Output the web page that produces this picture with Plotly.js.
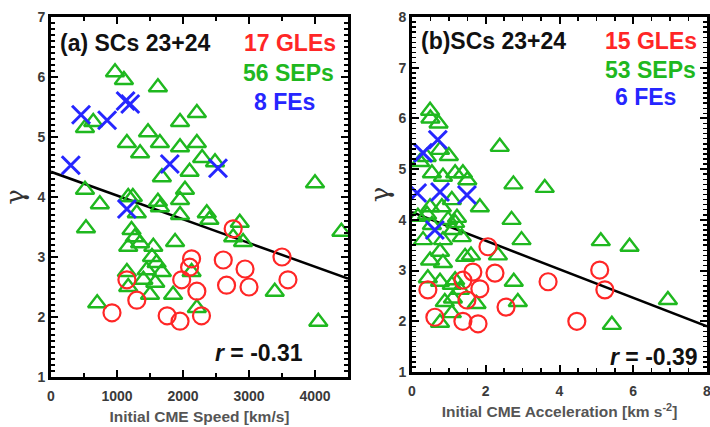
<!DOCTYPE html>
<html><head><meta charset="utf-8">
<script src="https://cdn.plot.ly/plotly-3.0.1.min.js"></script>
<style>html,body{margin:0;padding:0;background:#fff}</style>
</head><body><div id="chart" style="width:710px;height:427px"></div>
<script>
// ---- Panel (a): gamma vs initial CME speed ----
const gleSpeed = [924,1150,1300,1760,1955,1980,2130,2100,2210,2280,2610,2660,2760,2940,3000,3500,3590];
const gleGammaA = [2.07,2.62,2.28,2.02,1.93,2.62,2.97,2.83,2.43,2.02,2.95,2.53,3.47,2.8,2.5,3.0,2.62];
const sepSpeed = [970,1105,1620,515,640,1955,2210,1150,1470,1650,1955,2210,1350,2290,2485,2100,1680,2030,515,4000,740,1170,1240,1620,1955,
  530,1300,1220,1270,1170,1350,1550,1530,1600,1680,1450,1400,1580,1150,1170,1500,700,1850,1880,1955,1650,2360,2400,2860,2760,2910,2130,2210,3390,4050,4400];
const sepGammaA = [6.08,5.95,5.83,5.15,5.25,5.25,5.4,4.9,5.08,4.9,4.83,4.9,4.73,4.65,4.58,4.42,4.33,4.12,4.12,4.23,3.88,4.0,4.0,3.92,3.95,
  3.48,3.73,3.45,3.33,3.17,3.23,3.17,3.0,2.9,2.75,2.78,2.62,2.57,2.75,2.5,2.37,2.23,2.37,3.25,3.7,3.83,3.73,3.62,3.57,3.33,3.25,2.75,2.15,2.42,1.92,3.42];
const feSpeed = [300,455,850,1130,1200,1800,2530,1150];
const feGammaA = [4.53,5.37,5.28,5.6,5.55,4.55,4.48,3.8];
const fitSpeed = [0,4500];
const fitGammaA = [4.42,2.64];

// ---- Panel (b): gamma vs initial CME acceleration ----
const gleAcc = [0.43,0.62,1.38,1.65,1.49,1.84,1.38,1.79,2.06,2.25,2.55,3.69,4.47,5.09,5.23];
const gleGammaB = [2.62,2.08,2.81,2.97,2.42,2.64,2.0,1.95,3.47,2.95,2.28,2.78,2.0,3.01,2.62];
const sepAcc = [0.49,0.5,0.72,2.38,0.22,0.4,0.76,1.0,0.54,0.84,1.17,1.38,1.5,2.75,3.6,1.84,1.08,0.81,0.49,1.22,0.16,2.7,0.41,0.98,1.17,0.54,
  1.11,0.84,1.35,2.97,5.12,5.9,2.33,0.49,0.84,1.44,1.6,0.76,0.43,0.76,1.08,1.3,2.76,0.89,1.11,1.75,2.87,1.08,0.76,5.42,6.94,1.17,0.3];
const sepGammaB = [6.15,6.0,5.9,5.44,5.14,5.24,5.38,5.26,4.92,4.85,4.92,4.92,4.78,4.7,4.63,4.25,4.39,4.25,4.25,4.04,4.06,4.0,4.1,4.0,3.94,3.9,
  3.8,3.6,3.66,3.6,3.58,3.47,3.3,3.2,3.15,3.27,3.3,3.37,2.85,2.78,2.72,2.62,2.78,2.38,2.45,2.34,2.38,2.16,1.97,1.93,2.42,2.81,3.6];
const feAcc = [0.3,0.7,0.14,0.76,1.49,0.62];
const feGammaB = [5.32,5.58,4.53,4.55,4.49,3.8];
const fitAcc = [0,8];
const fitGammaB = [4.15,1.9];

const RED = '#ff2626', GREEN = '#1fb81f', BLUE = '#2626ff';

function circ(x,y,xa,ya){return {x,y,xaxis:xa,yaxis:ya,type:'scatter',mode:'markers',
  marker:{symbol:'circle-open',size:17,color:RED,line:{width:2.2,color:RED}},hoverinfo:'skip'};}
function tri(x,y,xa,ya){return {x,y,xaxis:xa,yaxis:ya,type:'scatter',mode:'markers',
  marker:{symbol:'triangle-up-open',size:16,color:GREEN,line:{width:2.4,color:GREEN}},hoverinfo:'skip'};}
function cross(x,y,xa,ya){return {x,y,xaxis:xa,yaxis:ya,type:'scatter',mode:'markers',
  marker:{symbol:'x-thin-open',size:18,color:BLUE,line:{width:3,color:BLUE}},hoverinfo:'skip'};}
function fit(x,y,xa,ya){return {x,y,xaxis:xa,yaxis:ya,type:'scatter',mode:'lines',
  line:{color:'#000',width:2.5},hoverinfo:'skip'};}

const data = [
  fit(fitSpeed,fitGammaA,'x','y'), tri(sepSpeed,sepGammaA,'x','y'), circ(gleSpeed,gleGammaA,'x','y'), cross(feSpeed,feGammaA,'x','y'),
  fit(fitAcc,fitGammaB,'x2','y2'), tri(sepAcc,sepGammaB,'x2','y2'), circ(gleAcc,gleGammaB,'x2','y2'), cross(feAcc,feGammaB,'x2','y2')
];

const W=710, H=427;
const tickFont = {family:'Liberation Sans, Arial, sans-serif', size:14, color:'#3a3a3a', weight:'bold'};
const titleFont = {family:'Liberation Sans, Arial, sans-serif', size:15.5, color:'#555', weight:'bold'};
const gFont = {family:'DejaVu Serif, serif', size:26, color:'#333'};
function axBase(){return {showgrid:false, zeroline:false, showline:true, linecolor:'#000', linewidth:3, mirror:'ticks',
  ticks:'inside', ticklen:7, tickwidth:2, tickcolor:'#000', tickfont:tickFont, fixedrange:true, ticklabeloverflow:'allow'};}

const xa = Object.assign(axBase(), {domain:[51/W,348/W], range:[0,4500], tickvals:[0,1000,2000,3000,4000], anchor:'y',
  ticklabelstandoff:4,
  minor:{ticks:'inside', ticklen:4, dtick:500, tickcolor:'#000', tickwidth:1.5},
  title:{text:'Initial CME Speed [km/s]', font:titleFont, standoff:9}});
const ya = Object.assign(axBase(), {domain:[1-377/H,1-17/H], range:[1,7], dtick:1, anchor:'x',
  minor:{ticks:'inside', ticklen:4, dtick:0.1, tickcolor:'#000', tickwidth:1.5},
  title:{text:'γ', font:gFont, standoff:8}});
const xb = Object.assign(axBase(), {domain:[412/W,707/W], range:[0,8], dtick:2, anchor:'y2',
  ticklabelstandoff:4,
  minor:{ticks:'inside', ticklen:4, dtick:0.5, tickcolor:'#000', tickwidth:1.5},
  title:{text:'Initial CME Acceleration [km s<sup>-2</sup>]', font:titleFont, standoff:9}});
const yb = Object.assign(axBase(), {domain:[1-372/H,1-17/H], range:[1,8], dtick:1, anchor:'x2',
  minor:{ticks:'inside', ticklen:4, dtick:0.1, tickcolor:'#000', tickwidth:1.5},
  title:{text:'γ', font:gFont, standoff:2}});

const txtFont = (c,s)=>({family:'Liberation Sans, Arial, sans-serif', size:s||23, color:c, weight:'bold'});
function ann(text,px,py,c,anchor,s){return {text, x:px/W, y:1-py/H, xref:'paper', yref:'paper', xanchor:anchor||'left', yanchor:'middle',
  showarrow:false, font:txtFont(c,s)};}

const layout = {
  width:W, height:H, margin:{l:0,r:0,t:0,b:0}, paper_bgcolor:'#fff', plot_bgcolor:'#fff', showlegend:false,
  xaxis:xa, yaxis:ya, xaxis2:xb, yaxis2:yb,
  annotations:[
    ann('(a) SCs 23+24',58,43,'#111'),
    ann('17 GLEs',338,43,RED,'right'),
    ann('56 SEPs',336,73,GREEN,'right'),
    ann('8 FEs',284,102,BLUE,'center'),
    ann('<i>r</i> = -0.31',305,353,'#111','right'),
    ann('(b)SCs 23+24',419,41,'#111'),
    ann('15 GLEs',699,41,RED,'right'),
    ann('53 SEPs',698,70,GREEN,'right'),
    ann('6 FEs',645,97,BLUE,'center'),
    ann('<i>r</i> = -0.39',700,357,'#111','right')
  ]
};
Plotly.newPlot('chart', data, layout, {staticPlot:true});
</script></body></html>
